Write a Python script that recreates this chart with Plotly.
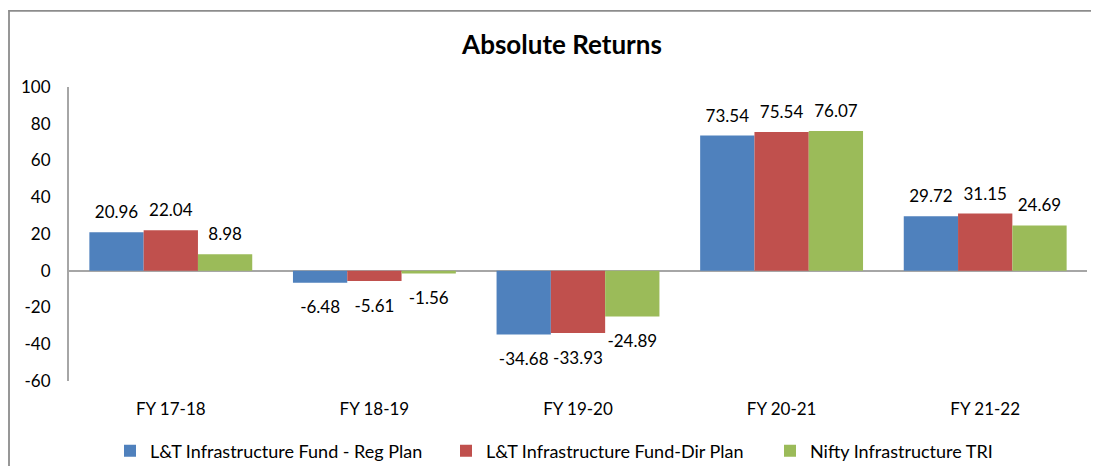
import plotly.graph_objects as go

categories = ["FY 17-18", "FY 18-19", "FY 19-20", "FY 20-21", "FY 21-22"]
reg_plan = [20.96, -6.48, -34.68, 73.54, 29.72]
dir_plan = [22.04, -5.61, -33.93, 75.54, 31.15]
nifty_tri = [8.98, -1.56, -24.89, 76.07, 24.69]
series_names = ["L&T Infrastructure Fund - Reg Plan",
                "L&T Infrastructure Fund-Dir Plan",
                "Nifty Infrastructure TRI"]
colors = ["#4F81BD", "#C0504D", "#9BBB59"]
y_tickvals = [-60, -40, -20, 0, 20, 40, 60, 80, 100]
y_ticktext = ["-60", "-40", "-20", "0", "20", "40", "60", "80", "100"]

FONT = "Lato"
# page body has an 8px margin; figure sized to fit inside the window
W, H = 1083, 458
OFF = 8
L, T = 69 - OFF, 87 - OFF
R = W - (1087 - OFF)
B = H - (381 - OFF)
pw, ph = W - L - R, H - T - B


def px_x(p):  # screen px -> paper
    return (p - OFF - L) / pw


def px_y(p):
    return (H - B - (p - OFF)) / ph


legend_widths = [291, 279, 200]

fig = go.Figure()
for name, vals, c, lw in zip(series_names, [reg_plan, dir_plan, nifty_tri], colors, legend_widths):
    fig.add_trace(go.Bar(
        x=categories, y=vals, name=name,
        marker=dict(color=c, line=dict(width=0)),
        legendwidth=lw,
        hoverinfo="skip",
    ))

# data labels via grouped invisible markers
for name, vals in zip(series_names, [reg_plan, dir_plan, nifty_tri]):
    fig.add_trace(go.Scatter(
        x=categories, y=vals, mode="markers+text",
        text=[f"{v:.2f}" for v in vals],
        textposition=["top center" if v >= 0 else "bottom center" for v in vals],
        textfont=dict(family=FONT, size=17, color="#000000"),
        marker=dict(size=[14 if v >= 0 else 27 for v in vals], opacity=0),
        showlegend=False, hoverinfo="skip", cliponaxis=False,
    ))

fig.update_layout(
    width=W, height=H,
    margin=dict(l=L, r=R, t=T, b=B, autoexpand=False),
    paper_bgcolor="white", plot_bgcolor="white",
    barmode="group", bargap=0.2, bargroupgap=0,
    scattermode="group", scattergap=0.2,
    font=dict(family=FONT, size=17, color="#000000"),
    title=dict(text="<b>Absolute Returns</b>", x=(562 - OFF) / W, xref="container", xanchor="center",
               y=1 - (45 - OFF) / H, yref="container", yanchor="middle",
               font=dict(family=FONT, size=26, color="#000000")),
    showlegend=True,
    legend=dict(orientation="h", x=px_x(110), xanchor="left", y=px_y(451), yanchor="middle",
                font=dict(family=FONT, size=18, color="#000000"), itemwidth=30,
                traceorder="normal", bgcolor="rgba(0,0,0,0)", borderwidth=0),
    xaxis=dict(showline=False, showgrid=False, zeroline=False, ticks="",
               tickfont=dict(family=FONT, size=17), ticklabelstandoff=16),
    yaxis=dict(range=[-60, 100], tickvals=y_tickvals, ticktext=y_ticktext, showgrid=False,
               showline=True, linecolor="#A6A6A6", linewidth=2,
               zeroline=True, zerolinecolor="#A6A6A6", zerolinewidth=2,
               ticks="", tickfont=dict(family=FONT, size=17), ticklabelstandoff=13),
    shapes=[
        dict(type="line", xref="paper", yref="paper", x0=px_x(8.5), x1=px_x(1120),
             y0=px_y(10.9), y1=px_y(10.9), line=dict(color="#8C8C8C", width=1.8)),
        dict(type="line", xref="paper", yref="paper", x0=px_x(9), x1=px_x(9),
             y0=px_y(10), y1=px_y(500), line=dict(color="#8C8C8C", width=1.8)),
    ],
)

fig.write_html("out.html")
